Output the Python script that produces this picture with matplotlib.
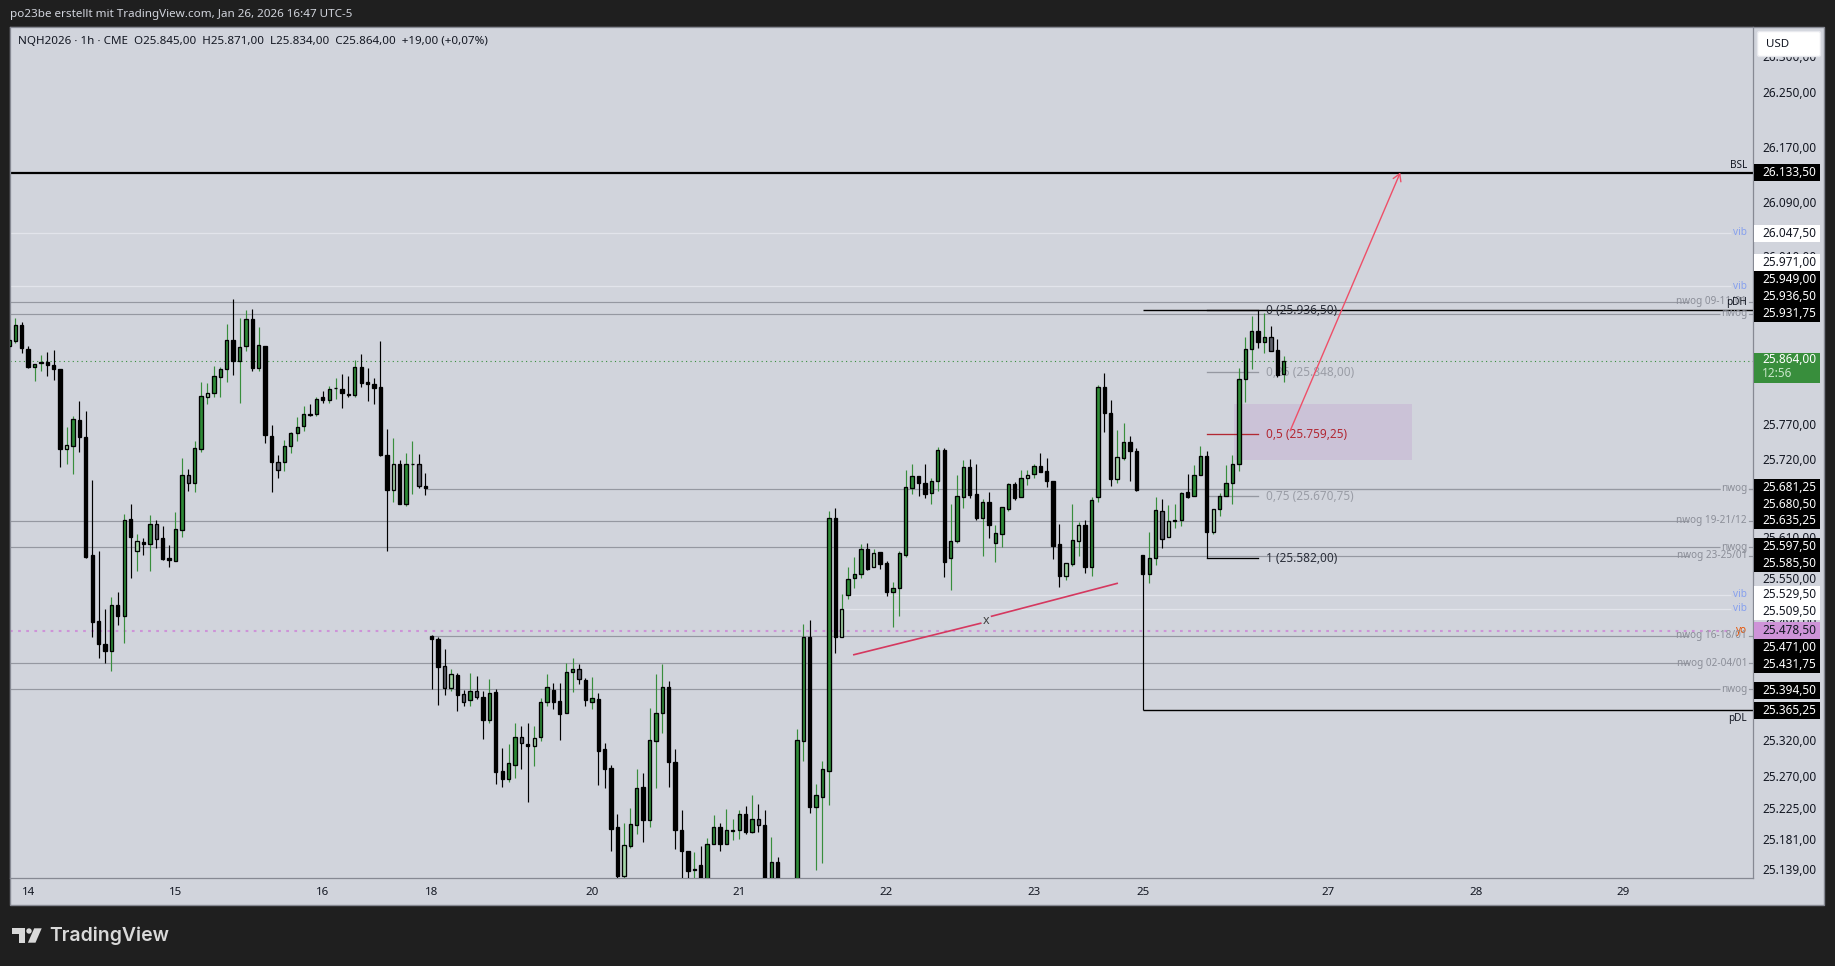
"""NQH2026 1h TradingView snapshot with liquidity levels and a fib."""

import matplotlib

matplotlib.use("Agg")
import matplotlib.pyplot as plt
import numpy as np
from matplotlib.patches import Polygon, Circle, FancyBboxPatch, Rectangle

FONT = "Noto Sans"

# one letter per bar: g up, k down, l pale up, s grey down
kinds = list(
    "ggkkggkkkl" "gkkkkkgkgk" "lkgskkggsg" "glgggkggkg" "kksggggkgk" "ggkkgkkkkk" "lkggsk"
    "kkslksgskg" "kkggsklggk" "kggskgkkkk" "lggkgggkkk" "kgkggkgggk" "gskgkkgggk"
    "gggklgggkl" "kkggggkkgg" "kgggkkgkgg" "gkglgkkkkl" "glkggkklgk" "kkggslggkg" "gklggggggk"
    "gskg"
)
body_tops = [
    25894, 25916, 25916, 25881, 25860, 25863, 25863, 25858, 25853, 25744,
    25781, 25780, 25756, 25586, 25492, 25459, 25515, 25515, 25636, 25638,
    25606, 25605, 25631, 25631, 25611, 25582, 25624, 25701, 25701, 25740,
    25814, 25818, 25843, 25853, 25894, 25894, 25884, 25924, 25924, 25887,
    25885, 25757, 25720, 25742, 25761, 25770, 25788, 25788, 25810, 25812,
    25824, 25825, 25824, 25817, 25855, 25855, 25834, 25831, 25827, 25730,
    25717, 25717, 25717, 25717, 25717, 25685,
    25471, 25466, 25428, 25416, 25415, 25388, 25392, 25392, 25383, 25389,
    25391, 25278, 25289, 25326, 25326, 25316, 25325, 25376, 25398, 25393,
    25378, 25419, 25423, 25423, 25408, 25382, 25380, 25309, 25282, 25198,
    25172, 25202, 25253, 25255, 25322, 25360, 25398, 25398, 25290, 25194,
    25164, 25137, 25144, 25174, 25197, 25197, 25193, 25193, 25216, 25216,
    25209, 25209, 25200, 25147, 25147, 25100, 25090, 25322, 25469, 25469,
    25243, 25280, 25639, 25639, 25509, 25552, 25559, 25595, 25595, 25589,
    25591, 25575, 25539, 25589, 25684, 25699, 25699, 25689, 25692, 25737,
    25737, 25606, 25671, 25712, 25712, 25674, 25662, 25662, 25618, 25655,
    25688, 25688, 25696, 25701, 25714, 25714, 25707, 25692, 25602, 25575,
    25608, 25629, 25629, 25665, 25827, 25827, 25790, 25727, 25748, 25748,
    25736, 25586, 25582, 25651, 25649, 25635, 25636, 25675, 25676, 25701,
    25728, 25728, 25652, 25671, 25689, 25716, 25838, 25881, 25907, 25907,
    25898, 25898, 25880, 25864,
]
body_bottoms = [
    25885, 25892, 25882, 25856, 25856, 25861, 25858, 25852, 25738, 25738,
    25743, 25755, 25584, 25491, 25459, 25449, 25449, 25500, 25499, 25612,
    25593, 25603, 25603, 25609, 25581, 25579, 25578, 25622, 25689, 25689,
    25738, 25812, 25818, 25841, 25853, 25864, 25864, 25885, 25854, 25854,
    25758, 25719, 25708, 25720, 25742, 25761, 25771, 25787, 25788, 25808,
    25808, 25825, 25818, 25816, 25816, 25833, 25831, 25826, 25729, 25680,
    25680, 25660, 25660, 25716, 25685, 25682,
    25466, 25426, 25396, 25397, 25386, 25377, 25379, 25383, 25350, 25350,
    25276, 25266, 25266, 25287, 25318, 25313, 25313, 25326, 25377, 25376,
    25359, 25360, 25419, 25409, 25379, 25377, 25307, 25281, 25195, 25128,
    25128, 25170, 25200, 25208, 25207, 25320, 25361, 25290, 25194, 25164,
    25135, 25136, 25110, 25110, 25174, 25174, 25174, 25192, 25193, 25191,
    25191, 25200, 25100, 25100, 25100, 25060, 25060, 25100, 25321, 25226,
    25226, 25241, 25278, 25469, 25469, 25529, 25553, 25559, 25567, 25569,
    25574, 25534, 25533, 25539, 25587, 25683, 25689, 25674, 25675, 25692,
    25577, 25582, 25606, 25669, 25673, 25640, 25640, 25630, 25604, 25617,
    25653, 25668, 25669, 25696, 25702, 25705, 25692, 25600, 25557, 25557,
    25574, 25606, 25570, 25570, 25669, 25789, 25695, 25695, 25726, 25736,
    25680, 25559, 25560, 25582, 25609, 25612, 25635, 25636, 25669, 25671,
    25701, 25619, 25619, 25652, 25671, 25689, 25716, 25838, 25881, 25891,
    25891, 25878, 25844, 25845,
]
highs = [
    25894, 25926, 25920, 25885, 25860, 25873, 25877, 25880, 25853, 25770,
    25786, 25807, 25792, 25694, 25593, 25510, 25527, 25534, 25645, 25659,
    25616, 25611, 25644, 25636, 25628, 25601, 25648, 25725, 25710, 25749,
    25834, 25832, 25857, 25856, 25917, 25953, 25926, 25937, 25939, 25912,
    25885, 25773, 25729, 25751, 25763, 25784, 25799, 25802, 25812, 25821,
    25828, 25839, 25846, 25843, 25865, 25874, 25854, 25840, 25892, 25767,
    25754, 25722, 25732, 25749, 25731, 25704,
    25472, 25469, 25452, 25423, 25418, 25393, 25418, 25413, 25392, 25409,
    25395, 25311, 25317, 25347, 25342, 25347, 25342, 25382, 25417, 25404,
    25403, 25432, 25440, 25431, 25411, 25412, 25389, 25318, 25286, 25216,
    25204, 25225, 25281, 25275, 25368, 25417, 25430, 25407, 25309, 25222,
    25164, 25162, 25171, 25182, 25215, 25204, 25224, 25209, 25222, 25227,
    25244, 25231, 25222, 25183, 25155, 25110, 25095, 25338, 25488, 25494,
    25259, 25292, 25650, 25654, 25531, 25570, 25584, 25603, 25604, 25595,
    25591, 25578, 25548, 25593, 25708, 25717, 25699, 25716, 25697, 25741,
    25739, 25660, 25701, 25723, 25724, 25717, 25666, 25677, 25630, 25655,
    25689, 25691, 25708, 25708, 25716, 25733, 25726, 25692, 25631, 25575,
    25660, 25634, 25637, 25670, 25829, 25847, 25808, 25766, 25776, 25757,
    25739, 25586, 25620, 25670, 25666, 25658, 25659, 25676, 25702, 25715,
    25743, 25735, 25652, 25675, 25715, 25730, 25854, 25899, 25928, 25937,
    25933, 25914, 25895, 25871,
]
lows = [
    25885, 25890, 25875, 25854, 25836, 25850, 25842, 25837, 25713, 25716,
    25703, 25734, 25583, 25470, 25440, 25432, 25421, 25487, 25461, 25554,
    25564, 25587, 25563, 25597, 25580, 25570, 25578, 25613, 25678, 25676,
    25734, 25802, 25813, 25813, 25834, 25844, 25804, 25879, 25850, 25850,
    25747, 25677, 25696, 25706, 25733, 25750, 25764, 25786, 25786, 25804,
    25804, 25809, 25797, 25812, 25812, 25827, 25807, 25803, 25728, 25593,
    25663, 25659, 25656, 25674, 25683, 25673,
    25395, 25372, 25386, 25392, 25363, 25371, 25370, 25380, 25324, 25347,
    25259, 25255, 25262, 25268, 25281, 25234, 25285, 25320, 25371, 25367,
    25322, 25360, 25391, 25402, 25370, 25367, 25257, 25254, 25163, 25124,
    25124, 25168, 25188, 25176, 25198, 25253, 25332, 25255, 25166, 25115,
    25115, 25110, 25100, 25100, 25174, 25163, 25174, 25179, 25181, 25188,
    25189, 25191, 25080, 25090, 25090, 25050, 25050, 25080, 25292, 25217,
    25136, 25146, 25229, 25446, 25469, 25524, 25540, 25554, 25565, 25569,
    25567, 25528, 25484, 25500, 25584, 25674, 25671, 25668, 25660, 25678,
    25555, 25537, 25604, 25654, 25668, 25636, 25585, 25611, 25577, 25598,
    25650, 25665, 25669, 25686, 25696, 25705, 25684, 25581, 25541, 25551,
    25571, 25585, 25561, 25557, 25663, 25763, 25685, 25690, 25722, 25693,
    25678, 25365.25, 25546, 25572, 25596, 25612, 25625, 25628, 25668, 25671,
    25701, 25582, 25616, 25642, 25671, 25660, 25706, 25805, 25852, 25883,
    25875, 25878, 25841, 25834,
]

# horizontal levels: price, right hand label, first bar (None = from the left edge)
level_prices = [
    26133.5, 26047.5, 25971.0, 25949.0, 25936.5, 25931.75, 25681.25, 25680.5, 25635.25,
    25597.5, 25585.5, 25529.5, 25509.5, 25478.5, 25471.0, 25431.75, 25394.5, 25365.25,
]
level_labels = [
    "BSL", "vib", "vib", "nwog 09-11/01", "pDH", "nwog", "nwog", "", "nwog 19-21/12",
    "nwog", "nwog 23-25/01", "vib", "vib", "yo", "nwog 16-18/01", "nwog 02-04/01", "nwog", "pDL",
]
level_starts = [
    None, None, None, None, 176, None, 64, 175, None,
    None, 178, 130, 129, None, 65, None, None, 176,
]

last_price = 25864.0
countdown = "12:56"

fib_ratios = ["0", "0,25", "0,5", "0,75", "1"]
fib_prices = [25936.5, 25848.0, 25759.25, 25670.75, 25582.0]

# the real scale bends a little, so these are where the labels sit on the straight axis used here
y_ticks = [26299.7, 26248.7, 26170, 26091, 26014, 25773.5, 25724, 25612, 25554, 25492, 25362,
           25322, 25270, 25225, 25181, 25137.6]
y_tick_labels = ["26.300,00", "26.250,00", "26.170,00", "26.090,00", "26.010,00", "25.770,00",
                 "25.720,00", "25.610,00", "25.550,00", "25.490,00", "25.360,00", "25.320,00",
                 "25.270,00", "25.225,00", "25.181,00", "25.139,00"]
day_bars = [2, 25, 48, 65, 90, 113, 136, 159, 176, 205, 228, 251]
day_labels = ["14", "15", "16", "18", "20", "21", "22", "23", "25", "27", "28", "29"]

header = "po23be erstellt mit TradingView.com, Jan 26, 2026 16:47 UTC-5"
legend = ("NQH2026 · 1h · CME  O25.845,00  H25.871,00  L25.834,00  C25.864,00  "
          "+19,00 (+0,07%)")

DARK = "#1f1f1f"
PANEL = "#d1d4dc"
EDGE = "#868993"
INK = "#131722"
GREEN = "#2e8b37"
WICK = "#388e3c"
PALE = "#a5d6a7"
SLATE = "#5d606b"
LEVEL = "#9598a1"
LIGHT = "#e2e4eb"
W, H = 1835, 966


def price_label(value):
    return f"{value:,.2f}".replace(",", "#").replace(".", ",").replace("#", ".")


def draw_candles(ax):
    bars = np.arange(-1, len(kinds) - 1)
    fill = {"g": GREEN, "k": "#000000", "l": PALE, "s": SLATE}
    wick = {"g": WICK, "k": "#000000", "l": WICK, "s": "#000000"}
    ax.vlines(bars, lows, highs, colors=[wick[k] for k in kinds], linewidth=0.85, zorder=3)
    heights = np.array(body_tops) - np.array(body_bottoms)
    ax.bar(bars, heights, bottom=body_bottoms, width=0.52, color=[fill[k] for k in kinds],
           edgecolor="#000000", linewidth=0.95, zorder=4)


def draw_levels(ax):
    left, right = ax.get_xlim()
    for price, label, start in zip(level_prices, level_labels, level_starts):
        first = left if start is None else start
        color, width, end = LEVEL, 0.85, 266.1
        if label.startswith("nwog "):
            end = 261.2
        if label == "vib":
            color, width, end = LIGHT, 0.9, 267.8
        if label in ("BSL", "pDH", "pDL"):
            color, width, end = "#000000", 1.0, right
        if label == "BSL":
            width = 1.6
        if label == "yo":
            ax.plot([first, 267.6], [price, price], color="#ce93d8", lw=1.5,
                    ls=(0, (1.3, 2.6)), zorder=2)
        else:
            ax.plot([first, end], [price, price], color=color, lw=width, zorder=2,
                    solid_capstyle="butt")
            if end < right and color == LEVEL:
                ax.plot([270.6, right], [price, price], color=color, lw=width, zorder=2)


def draw_level_labels(ax, over):
    to_pixel = over.transData.inverted()
    shifts = {"BSL": -7, "pDH": -8, "pDL": 9}
    colors = {"vib": "#86a0ee", "yo": "#e65100", "BSL": INK, "pDH": INK, "pDL": INK}
    for price, label in zip(level_prices, level_labels):
        if not label:
            continue
        y = to_pixel.transform(ax.transData.transform((0, price)))[1] + shifts.get(label, 0)
        over.text(1747, y, label, ha="right", va="center", fontsize=7.2, family=FONT,
                  color=colors.get(label, "#8b8e98"), zorder=6)


def draw_drawings(ax):
    # fib anchored on the 25 Jan leg, text sits under the candles
    fib_colors = ["#000000", LEVEL, "#b22833", LEVEL, "#000000"]
    text_colors = ["#2a2e39", "#9a9da6", "#b22833", "#9a9da6", "#2a2e39"]
    for ratio, price, line, text in zip(fib_ratios, fib_prices, fib_colors, text_colors):
        ax.plot([186, 194], [price, price], color=line, lw=0.95, zorder=2.5)
        ax.text(195.2, price, f"{ratio} ({price_label(price)})", color=text, fontsize=8.5,
                family=FONT, va="center", ha="left", zorder=2.6)

    ax.add_patch(Rectangle((190.2, 25723), 27.8, 80, facecolor="#9c27b0", alpha=0.1,
                           edgecolor="none", zorder=2.2))

    ax.plot([130.9, 150.7], [25444, 25489], color="#d5385f", lw=1.2, zorder=5)
    ax.plot([152.4, 172], [25499, 25546], color="#d5385f", lw=1.2, zorder=5)
    ax.text(151.6, 25493, "x", color="#444444", fontsize=9, ha="center", va="center",
            family=FONT, zorder=5)

    ax.annotate("", xy=(216.2, 26133.5), xytext=(199, 25764), zorder=5,
                arrowprops=dict(arrowstyle="->,head_length=0.25,head_width=0.15", color="#ee4f68",
                                lw=1.0, mutation_scale=20, shrinkA=0, shrinkB=0))


def draw_tags(ax, over):
    to_pixel = over.transData.inverted()
    white_tags = (26047.5, 25971.0, 25529.5, 25509.5)
    nudges = {25971.0: -24, 25949.0: -22, 25936.5: -14, 25681.25: -1, 25680.5: 15,
              25597.5: -1, 25585.5: 8, 25509.5: 3, 25471.0: 12, 25431.75: 1, 25394.5: 1,
              25365.25: 1, 26047.5: 1}
    for price in level_prices:
        y = to_pixel.transform(ax.transData.transform((0, price)))[1] + nudges.get(price, 0)
        face, ink = "#000000", "#ffffff"
        if price in white_tags:
            face, ink = "#ffffff", INK
        if price == 25478.5:
            face, ink = "#ce93d8", INK
        over.add_patch(Rectangle((1754, y - 8.5), 66, 17, facecolor=face, edgecolor="none",
                                 zorder=5))
        over.text(1762, y, price_label(price), color=ink, fontsize=8.5, family=FONT,
                  va="center", ha="left", zorder=7)

    y = to_pixel.transform(ax.transData.transform((0, last_price)))[1]
    over.add_patch(Rectangle((1754, y - 8.3), 66, 30.7, facecolor="#388e3c", edgecolor="none",
                             zorder=5))
    over.text(1762, y - 1, price_label(last_price), color="#ffffff", fontsize=8.5, family=FONT,
              va="center", zorder=7)
    over.text(1762, y + 13, countdown, color="#c8e6c9", fontsize=8.5, family=FONT, va="center",
              zorder=7)

    over.add_patch(FancyBboxPatch((1757.5, 31.5), 63, 25, boxstyle="round,pad=0,rounding_size=2",
                                  facecolor="#ffffff", edgecolor="#e8e9ee", lw=1, zorder=5))
    over.text(1766, 44.5, "USD", color=INK, fontsize=8.3, family=FONT, va="center", zorder=7)


def draw_chrome(back, over):
    back.add_patch(Rectangle((10, 27), 1814, 878, facecolor=PANEL, edgecolor=EDGE, lw=1))
    back.text(10, 15, header, color="#d1d4dc", fontsize=8.4, family=FONT, va="center")

    # logo
    logo = "#d9d9d9"
    back.add_patch(Polygon([(12, 928.3), (24.5, 928.3), (24.5, 942.7), (18.5, 942.7),
                            (18.5, 933.6), (12, 933.6)], facecolor=logo, edgecolor="none"))
    back.add_patch(Circle((29, 931), 2.7, facecolor=logo, edgecolor="none"))
    back.add_patch(Polygon([(34.2, 928.3), (41.7, 928.3), (35.5, 942.7), (27.9, 942.7)],
                           facecolor=logo, edgecolor="none"))
    back.text(49, 936, "TradingView", color=logo, fontsize=14, family="Inter",
              fontweight="semibold", va="center", ha="left")
    over.text(18, 41, legend, color=INK, fontsize=8.35, family=FONT, va="center", zorder=7)


def main():
    fig = plt.figure(figsize=(W / 100, H / 100), dpi=100, facecolor=DARK)

    back = fig.add_axes([0, 0, 1, 1], zorder=0)
    back.set_xlim(0, W)
    back.set_ylim(H, 0)
    back.axis("off")

    ax = fig.add_axes([10 / W, (H - 878) / H, 1743 / W, 851 / H], zorder=1)
    ax.set_facecolor(PANEL)
    ax.set_xlim(-0.83, 271.26)
    ax.set_ylim(25124.7, 26341.6)
    for spine in ax.spines.values():
        spine.set_color(EDGE)
        spine.set_linewidth(0.9)

    ax.yaxis.tick_right()
    ax.set_yticks(y_ticks, y_tick_labels)
    ax.set_xticks(day_bars, day_labels)
    ax.tick_params(axis="y", length=0, pad=6.4, labelsize=8.5, labelcolor=INK)
    ax.tick_params(axis="x", length=0, pad=6.5, labelsize=8.3, labelcolor=INK)
    for label in ax.get_xticklabels() + ax.get_yticklabels():
        label.set_family(FONT)

    over = fig.add_axes([0, 0, 1, 1], zorder=2)
    over.set_xlim(0, W)
    over.set_ylim(H, 0)
    over.axis("off")

    ax.axhline(last_price, color=WICK, lw=0.8, ls=(0, (1, 3)), zorder=2)
    draw_levels(ax)
    draw_drawings(ax)
    draw_candles(ax)
    draw_chrome(back, over)
    draw_level_labels(ax, over)
    draw_tags(ax, over)

    fig.savefig("out.png", dpi=100, facecolor=DARK)
    plt.close(fig)


if __name__ == "__main__":
    main()
